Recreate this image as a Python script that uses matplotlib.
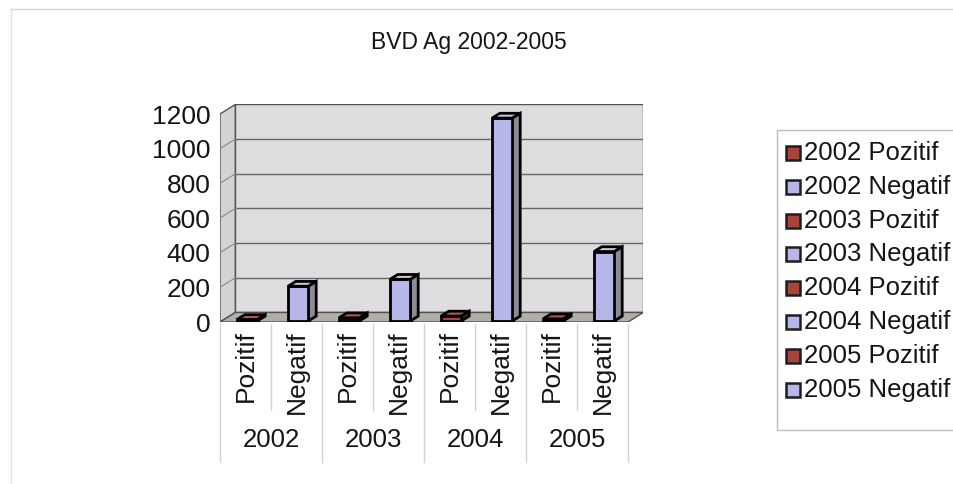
import matplotlib
matplotlib.use("Agg")
import matplotlib.pyplot as plt
from matplotlib.patches import Polygon, Rectangle

plt.rcParams['font.family'] = ['Liberation Sans', 'DejaVu Sans']

# ---- data ----
years = ["2002", "2003", "2004", "2005"]
kinds = ["Pozitif", "Negatif"]
pozitif = [8, 18, 28, 12]
negatif = [200, 240, 1170, 400]
yticks = [0, 200, 400, 600, 800, 1000, 1200]
title = "BVD Ag 2002-2005"

series_labels = [f"{y} {k}" for y in years for k in kinds]
values = [v for pair in zip(pozitif, negatif) for v in pair]
kind_of = [k for _ in years for k in kinds]

# ---- style ----
W, H = 954, 484
RED = '#A8443C'
RED_TOP = '#B65A52'
RED_SIDE = '#5E2622'
LAV = '#B6B6E8'
LAV_TOP = '#CFCBD6'
LAV_SIDE = '#8C8C98'
WALL = '#DEDCDE'
SIDE = '#D5D2D4'
FLOOR = '#B2ADA6'
EDGE = '#505050'
TXT = '#151515'

fig = plt.figure(figsize=(W / 100, H / 100), dpi=100)
fig.patch.set_facecolor('white')

# faint outer chart border
bax = fig.add_axes([0, 0, 1, 1], facecolor='none')
bax.set_xlim(0, W)
bax.set_ylim(H, 0)
bax.axis('off')
bax.plot([11, W], [9, 9], color='#D8D8D8', lw=1)
bax.plot([11, 11], [9, H], color='#E2E2E2', lw=1)

n = len(values)
DX = 0.30          # depth offset in category units
DY = 55.0          # depth offset in value units
ymax = yticks[-1]

px_per_cat = 51.0
ax_left = 220
ax_w = px_per_cat * (n + DX)
px_per_val = 208 / ymax
ax_h = px_per_val * (ymax + DY)
ax_bottom = H - 322
ax = fig.add_axes([ax_left / W, ax_bottom / H, ax_w / W, ax_h / H])
ax.set_xlim(0, n + DX)
ax.set_ylim(0, ymax + DY)
for s in ax.spines.values():
    s.set_visible(False)
ax.set_facecolor('none')
ax.set_xticks([])
ax.set_yticks(yticks)
ax.set_yticklabels([str(t) for t in yticks], fontsize=19, color=TXT)
ax.tick_params(axis='y', length=0, pad=7)

# walls
ax.add_patch(Rectangle((DX, DY), n, ymax, facecolor=WALL, edgecolor=EDGE, lw=1, zorder=1))
ax.add_patch(Polygon([(0, 0), (DX, DY), (DX, ymax + DY), (0, ymax)], closed=True,
                     facecolor=SIDE, edgecolor=EDGE, lw=1, zorder=1))
ax.add_patch(Polygon([(0, 0), (n, 0), (n + DX, DY), (DX, DY)], closed=True,
                     facecolor=FLOOR, edgecolor=EDGE, lw=1, zorder=2))
for t in yticks[1:-1]:
    ax.plot([DX, n + DX], [t + DY, t + DY], color='#666666', lw=1.0, zorder=1.5)
    ax.plot([0, DX], [t, t + DY], color='#888888', lw=0.8, zorder=1.5)

# bars
bw = 0.40
f = 0.12
d = 0.50
for i, (v, k) in enumerate(zip(values, kind_of)):
    if k == "Pozitif":
        fc, tc, sc = RED, RED_TOP, RED_SIDE
    else:
        fc, tc, sc = LAV, LAV_TOP, LAV_SIDE
    x0 = i + 0.5 - bw / 2 + f * DX
    y0 = f * DY
    ddx, ddy = d * DX, d * DY
    kw = dict(edgecolor='black', lw=2.0, zorder=5, joinstyle='miter')
    ax.add_patch(Rectangle((x0, y0), bw, v, facecolor=fc, **kw))
    ax.add_patch(Polygon([(x0, y0 + v), (x0 + bw, y0 + v), (x0 + bw + ddx, y0 + v + ddy),
                          (x0 + ddx, y0 + v + ddy)], closed=True, facecolor=tc, **kw))
    ax.add_patch(Polygon([(x0 + bw, y0), (x0 + bw + ddx, y0 + ddy), (x0 + bw + ddx, y0 + v + ddy),
                          (x0 + bw, y0 + v)], closed=True, facecolor=sc, **kw))

# category axis labels (two levels)
tr = ax.get_xaxis_transform()
def ypx(p):  # pixel-from-top to axes fraction
    return (H - p - ax_bottom) / ax_h

for i, k in enumerate(kind_of):
    ax.text(i + 0.5, ypx(330), k, rotation=90, ha='center', va='top', fontsize=19,
            color=TXT, transform=tr, clip_on=False)
for i in range(n + 1):
    major = (i % 2 == 0)
    ax.plot([i, i], [ypx(324), ypx(462 if major else 410)], color='#D2D2D2', lw=1,
            transform=tr, clip_on=False)
for j, yr in enumerate(years):
    ax.text(2 * j + 1, ypx(440), yr, ha='center', va='center', fontsize=18.5,
            color=TXT, transform=tr, clip_on=False)

# title
fig.text(469 / W, 1 - 42 / H, title, ha='center', va='center', fontsize=16.5, color=TXT)

# legend (manual box at right)
bax.add_patch(Rectangle((777, 130), 200, 300, facecolor='white', edgecolor='#BDBDBD', lw=1))
for j, (lab, k) in enumerate(zip(series_labels, kind_of)):
    yc = 153 + j * 33.8
    col = RED if k == "Pozitif" else LAV
    bax.add_patch(Rectangle((786, yc - 7), 14, 14, facecolor=col, edgecolor='#1E1E1E', lw=1.8))
    bax.text(804, yc, lab, ha='left', va='center', fontsize=18.5, color=TXT)

fig.savefig("out.png", dpi=100, facecolor='white')
